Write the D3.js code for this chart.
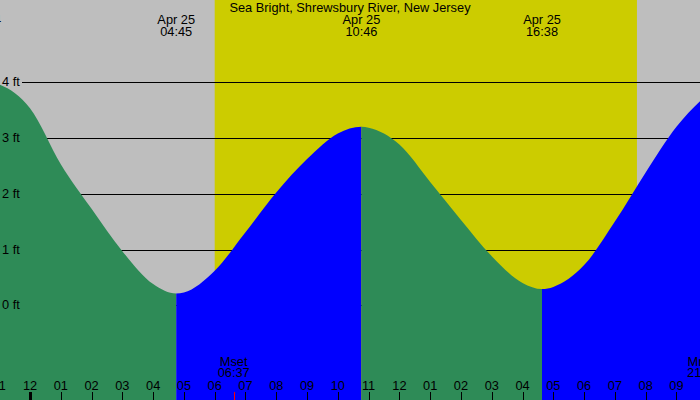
<!DOCTYPE html>
<html>
<head>
<meta charset="utf-8">
<script src="https://cdn.jsdelivr.net/npm/d3@7"></script>
<style>
  body { margin: 0; background: #fff; }
  svg { display: block; font-family: "Liberation Sans", Arial, sans-serif; font-size: 12.8px; }
</style>
</head>
<body>
<svg id="chart" width="700" height="400"></svg>
<script>
// tide readings (ft)
const tideTimes = [
  "2024-04-24 22:00", "2024-04-24 22:27", "2024-04-24 23:00",
  "2024-04-25 00:00", "2024-04-25 01:00", "2024-04-25 02:00", "2024-04-25 03:00",
  "2024-04-25 04:00", "2024-04-25 04:45", "2024-04-25 05:00", "2024-04-25 06:00",
  "2024-04-25 07:00", "2024-04-25 08:00", "2024-04-25 09:00", "2024-04-25 10:00",
  "2024-04-25 10:46", "2024-04-25 11:00", "2024-04-25 12:00", "2024-04-25 13:00",
  "2024-04-25 14:00", "2024-04-25 15:00", "2024-04-25 16:00", "2024-04-25 16:38",
  "2024-04-25 17:00", "2024-04-25 18:00", "2024-04-25 19:00", "2024-04-25 20:00",
  "2024-04-25 21:00", "2024-04-25 22:00"
];
const tideFeet = [
  3.99, 4.02, 3.96,
  3.53, 2.53, 1.73, 0.97,
  0.38, 0.21, 0.23, 0.62,
  1.31, 2.02, 2.62, 3.08,
  3.20, 3.18, 2.88, 2.21,
  1.53, 0.88, 0.40, 0.29,
  0.33, 0.72, 1.50, 2.38,
  3.20, 3.78
];

// high / low water labels
const extremeTimes = ["2024-04-24 22:27", "2024-04-25 04:45", "2024-04-25 10:46", "2024-04-25 16:38"];
const extremeDays = ["Apr 24", "Apr 25", "Apr 25", "Apr 25"];
const extremeClock = ["22:27", "04:45", "10:46", "16:38"];

const sunTimes = ["2024-04-25 06:00", "2024-04-25 19:43"];
const moonNames = ["Mset", "Mrise"];
const moonTimes = ["2024-04-25 06:37", "2024-04-25 21:52"];
const moonClock = ["06:37", "21:52"];

const feetTicks = [0, 1, 2, 3, 4];
const title = "Sea Bright, Shrewsbury River, New Jersey";

const width = 700, height = 400;
const parse = d3.utcParse("%Y-%m-%d %H:%M");

const tide = tideTimes.map((t, i) => ({ date: parse(t), ft: tideFeet[i] }));
const extremes = extremeTimes.map((t, i) => ({ date: parse(t), day: extremeDays[i], clock: extremeClock[i] }));

const svg = d3.select("#chart");

const x = d3.scaleUtc()
  .domain([parse("2024-04-25 00:00"), parse("2024-04-25 12:00")])
  .range([30, 399.4]);

const y = d3.scaleLinear()
  .domain([0, 4])
  .range([305.3, 82.1]);

// night / day background
svg.append("rect")
  .attr("width", width).attr("height", height)
  .attr("fill", "#bebebe");

svg.append("rect")
  .attr("x", x(parse(sunTimes[0])))
  .attr("width", x(parse(sunTimes[1])) - x(parse(sunTimes[0])))
  .attr("height", height)
  .attr("fill", "#cccc00");

// grid lines
svg.append("g")
  .selectAll("line")
  .data(feetTicks)
  .enter().append("line")
  .attr("x1", 22).attr("x2", width)
  .attr("y1", d => Math.round(y(d)) + 0.5)
  .attr("y2", d => Math.round(y(d)) + 0.5)
  .attr("stroke", "#000");

// tide area, green while falling, blue while rising
const area = d3.area()
  .x(d => x(d.date))
  .y0(height)
  .y1(d => y(d.ft))
  .curve(d3.curveMonotoneX);

const bounds = [x.invert(-50)].concat(extremes.map(d => d.date), [x.invert(width + 50)]);
const defs = svg.append("defs");

for (let i = 0; i < bounds.length - 1; i++) {
  // falling if the segment ends on a low
  let endFt;
  if (i < extremes.length) {
    endFt = tideFeet[tideTimes.indexOf(extremeTimes[i])];
  }
  let startFt = i > 0 ? tideFeet[tideTimes.indexOf(extremeTimes[i - 1])] : null;
  let falling;
  if (i === 0) falling = false;
  else if (i < extremes.length) falling = endFt < startFt;
  else falling = startFt > 2 ? true : false;

  const x0 = x(bounds[i]), x1 = x(bounds[i + 1]);
  defs.append("clipPath").attr("id", "seg" + i)
    .append("rect")
    .attr("x", x0).attr("y", 0)
    .attr("width", x1 - x0).attr("height", height);

  svg.append("path")
    .datum(tide)
    .attr("clip-path", "url(#seg" + i + ")")
    .attr("fill", falling ? "#2e8b57" : "#0000ff")
    .attr("d", area);
}

// feet labels
svg.append("g")
  .selectAll("text")
  .data(feetTicks)
  .enter().append("text")
  .attr("x", 2)
  .attr("y", d => y(d) + 4)
  .text(d => d + " ft");

// title
svg.append("text")
  .attr("x", width / 2).attr("y", 12)
  .attr("text-anchor", "middle")
  .text(title);

// high / low labels
const ext = svg.append("g")
  .attr("text-anchor", "middle")
  .selectAll("g")
  .data(extremes)
  .enter().append("g");

ext.append("text")
  .attr("x", d => x(d.date)).attr("y", 24)
  .text(d => d.day);

ext.append("text")
  .attr("x", d => x(d.date)).attr("y", 36)
  .text(d => d.clock);

// hour axis
const hours = d3.utcHour.range(x.invert(-40), x.invert(width + 40));
const fmt = d3.utcFormat("%I");

const hg = svg.append("g");
hg.selectAll("line")
  .data(hours)
  .enter().append("line")
  .attr("x1", d => Math.round(x(d)) + 0.5)
  .attr("x2", d => Math.round(x(d)) + 0.5)
  .attr("y1", 392).attr("y2", height)
  .attr("stroke", "#000")
  .attr("stroke-width", d => d.getUTCHours() === 0 ? 3 : 1);

hg.selectAll("text")
  .data(hours)
  .enter().append("text")
  .attr("x", d => x(d))
  .attr("y", 390)
  .attr("text-anchor", "middle")
  .text(d => fmt(d));

// moon rise / set
moonTimes.forEach((t, i) => {
  const mx = x(parse(t));
  svg.append("line")
    .attr("x1", Math.round(mx) + 0.5).attr("x2", Math.round(mx) + 0.5)
    .attr("y1", 392).attr("y2", height)
    .attr("stroke", "#ff0000");
  svg.append("text")
    .attr("x", mx).attr("y", 366)
    .attr("text-anchor", "middle")
    .text(moonNames[i]);
  svg.append("text")
    .attr("x", mx).attr("y", 377)
    .attr("text-anchor", "middle")
    .text(moonClock[i]);
});
</script>
</body>
</html>
